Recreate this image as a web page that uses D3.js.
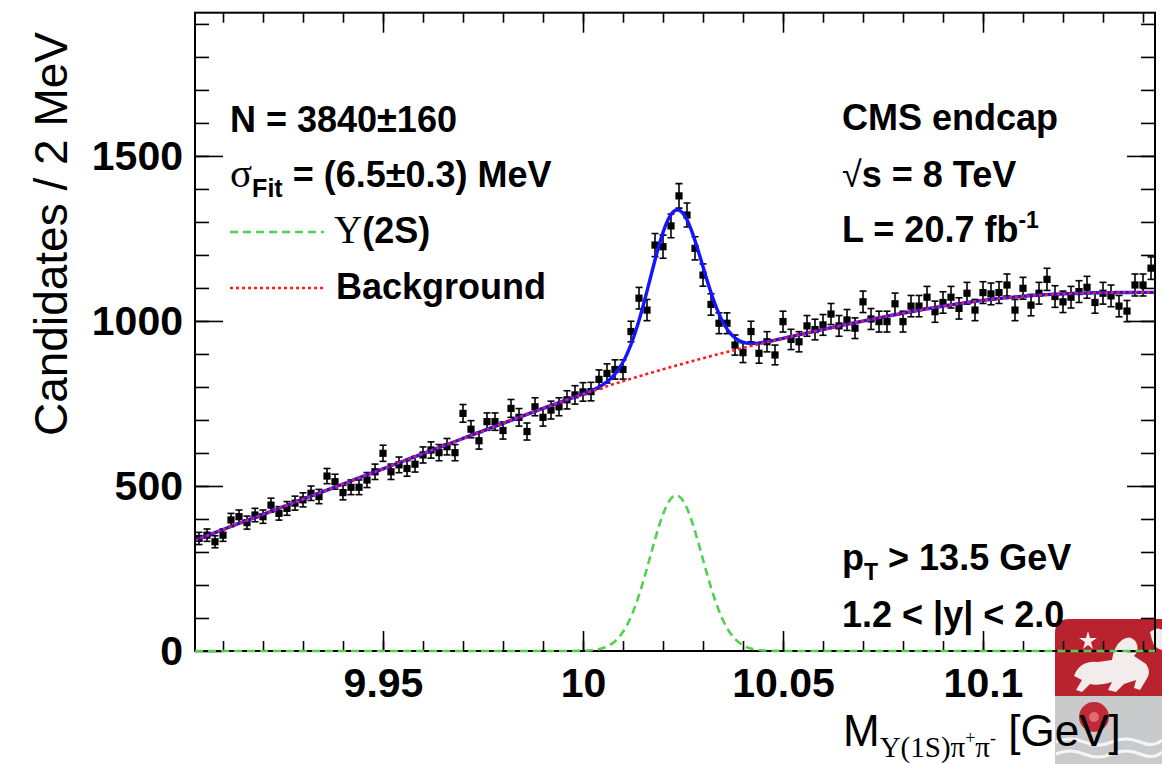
<!DOCTYPE html>
<html>
<head>
<meta charset="utf-8">
<script src="https://cdn.jsdelivr.net/npm/d3@7"></script>
<style>
  html, body { margin: 0; padding: 0; background: #fff; }
  svg { display: block; }
</style>
</head>
<body>
<svg id="chart" width="1162" height="764"></svg>
<script>
// Upsilon(1S) pi+ pi- invariant mass spectrum, 2 MeV bins from 9.903 to 10.143 GeV
const massLow = 9.903;
const massHigh = 10.143;
const binWidth = 0.002;
const binCenters = d3.range(120).map(i => massLow + binWidth * (i + 0.5));

const counts = [
  341, 351, 331, 351, 397, 407, 389, 412, 407, 442,
  417, 432, 448, 458, 478, 468, 530, 513, 480, 496,
  496, 518, 543, 599, 543, 564, 553, 566, 594, 609,
  601, 619, 601, 720, 672, 637, 695, 695, 668, 735,
  708, 665, 740, 708, 730, 740, 761, 776, 785, 786,
  823, 841, 853, 853, 968, 1069, 1033, 1230, 1225, 1288,
  1379, 1321, 1220, 1139, 1050, 993, 993, 927, 904, 968,
  902, 937, 897, 998, 944, 937, 985, 974, 988, 1021,
  985, 1003, 978, 1058, 1006, 998, 998, 1052, 998, 1045,
  1045, 1072, 1028, 1056, 1072, 1038, 1084, 1033, 1086, 1082,
  1086, 1109, 1033, 1099, 1048, 1084, 1126, 1074, 1058, 1072,
  1089, 1102, 1056, 1084, 1076, 1045, 1030, 1109, 1109, 1160
];

// Background fit: control values on a uniform 20 MeV grid starting at 9.90 GeV
const bgGridStart = 9.90;
const bgGridEnd = 10.16;
const bgLevels = [322, 414, 506, 598, 690, 781, 855, 920, 975, 1025, 1066, 1085, 1087, 1086];

// Upsilon(2S) signal: Gaussian yield and width from the fit
const sigYield = 3840;
const sigMean = 10.0233;
const sigWidth = 0.0065;

const xTickLabels = [9.95, 10, 10.05, 10.1];
const yTickLabels = [0, 500, 1000, 1500];

// ---------------------------------------------------------------
const svg = d3.select("#chart");
const plotL = 195, plotR = 1155, plotT = 12.7, plotB = 651;

const x = d3.scaleLinear().domain([massLow, massHigh]).range([plotL, plotR]);
const y = d3.scaleLinear().domain([0, 1934]).range([plotB, plotT]);

const sans = "'Liberation Sans', Arial, Helvetica, sans-serif";
const serif = "'Liberation Serif', 'Times New Roman', serif";

const bgSpline = d3.interpolateBasis(bgLevels);
const background = m => bgSpline((m - bgGridStart) / (bgGridEnd - bgGridStart));
const signal = m => sigYield * binWidth / (sigWidth * Math.sqrt(2 * Math.PI)) *
  Math.exp(-0.5 * Math.pow((m - sigMean) / sigWidth, 2));

const fine = d3.range(massLow, massHigh + 0.00025, 0.0005);

// crest in the lower right corner, underneath the plot
const crest = svg.append("g");
crest.append("path")
  .attr("d", "M1055,633 Q1055,619 1069,619 L1162,619 L1162,696 L1055,696 Z")
  .attr("fill", "#b9232e");
crest.append("rect").attr("x", 1055).attr("y", 696).attr("width", 107).attr("height", 68)
  .attr("fill", "#c8cacc");
// lion passant
crest.append("path")
  .attr("d", "M1074,676 Q1080,660 1098,662 L1112,660 Q1114,646 1122,640 Q1130,634 1136,642 Q1140,650 1134,656 L1146,664 Q1152,672 1146,680 L1140,690 L1134,688 L1136,680 L1124,684 L1116,692 L1108,690 L1112,682 Q1098,686 1090,684 L1082,692 L1076,690 L1082,680 Z")
  .attr("fill", "#f3ecec");
crest.append("path")
  .attr("d", "M1088,631 L1090,638 L1097,638 L1091,642 L1093,649 L1088,645 L1083,649 L1085,642 L1079,638 L1086,638 Z")
  .attr("fill", "#f3ecec");
crest.append("path")
  .attr("d", "M1150,632 Q1158,626 1162,630 L1162,650 Q1154,648 1152,640 Z")
  .attr("fill", "#f3ecec");
// red rose
crest.append("circle").attr("cx", 1094).attr("cy", 717).attr("r", 15).attr("fill", "#c02a36");
crest.append("circle").attr("cx", 1094).attr("cy", 717).attr("r", 5).attr("fill", "#e36a70");
// waves
crest.append("path")
  .attr("d", "M1056,742 Q1070,736 1084,742 T1112,742 T1140,742 T1162,740 M1056,754 Q1070,748 1084,754 T1112,754 T1140,754 T1162,752")
  .attr("fill", "none").attr("stroke", "#f5f5f5").attr("stroke-width", 3);

svg.append("defs").append("clipPath").attr("id", "plotArea")
  .append("rect").attr("x", plotL).attr("y", plotT)
  .attr("width", plotR - plotL).attr("height", plotB - plotT + 2);

// data points with Poisson error bars
const pts = svg.append("g").attr("clip-path", "url(#plotArea)");
const pointGroups = pts.selectAll("g.pt")
  .data(binCenters.map((m, i) => ({ m, n: counts[i] })))
  .join("g").attr("class", "pt");
pointGroups.append("line")
  .attr("x1", d => x(d.m)).attr("x2", d => x(d.m))
  .attr("y1", d => y(d.n + Math.sqrt(d.n))).attr("y2", d => y(d.n - Math.sqrt(d.n)))
  .attr("stroke", "#000").attr("stroke-width", 1.6);
[1, -1].forEach(s => {
  pointGroups.append("line")
    .attr("x1", d => x(d.m) - 3.5).attr("x2", d => x(d.m) + 3.5)
    .attr("y1", d => y(d.n + s * Math.sqrt(d.n))).attr("y2", d => y(d.n + s * Math.sqrt(d.n)))
    .attr("stroke", "#000").attr("stroke-width", 1.6);
});
pointGroups.append("rect")
  .attr("x", d => x(d.m) - 3.6).attr("y", d => y(d.n) - 3.6)
  .attr("width", 7.2).attr("height", 7.2).attr("fill", "#000");

// fit curves
const curves = svg.append("g").attr("clip-path", "url(#plotArea)");
const line = d3.line().x(d => x(d[0])).y(d => y(d[1]));
curves.append("path")
  .attr("d", line(fine.map(m => [m, background(m) + signal(m)])))
  .attr("fill", "none").attr("stroke", "#1414ff").attr("stroke-width", 3.4);
curves.append("path")
  .attr("d", line(fine.map(m => [m, background(m)])))
  .attr("fill", "none").attr("stroke", "#ff1a1a").attr("stroke-width", 2.6)
  .attr("stroke-dasharray", "3,3");

// frame
svg.append("rect").attr("x", plotL).attr("y", plotT)
  .attr("width", plotR - plotL).attr("height", plotB - plotT)
  .attr("fill", "none").attr("stroke", "#000").attr("stroke-width", 2);

// axes: major and minor ticks on all four sides, pointing inward
const minorX = d3.range(9.91, 10.1401, 0.01).map(v => +v.toFixed(3));
const majorX = xTickLabels;
const minorY = d3.range(100, 1901, 100);

function noDomain(g) {
  g.select(".domain").remove();
  g.selectAll(".tick line").attr("stroke", "#000").attr("stroke-width", 1.6);
}

svg.append("g").attr("transform", `translate(0,${plotB})`)
  .call(d3.axisBottom(x).tickValues(minorX).tickSize(-10).tickFormat(""))
  .call(noDomain);
svg.append("g").attr("transform", `translate(0,${plotB})`)
  .call(d3.axisBottom(x).tickValues(majorX).tickSize(-20).tickPadding(17)
    .tickFormat(d => d3.format("")(d)))
  .call(noDomain)
  .call(g => g.selectAll("text").attr("font-family", sans).attr("font-weight", "bold")
    .attr("font-size", 41).attr("fill", "#000"));
svg.append("g").attr("transform", `translate(0,${plotT})`)
  .call(d3.axisTop(x).tickValues(minorX).tickSize(-10).tickFormat(""))
  .call(noDomain);
svg.append("g").attr("transform", `translate(0,${plotT})`)
  .call(d3.axisTop(x).tickValues(majorX).tickSize(-20).tickFormat(""))
  .call(noDomain);

svg.append("g").attr("transform", `translate(${plotL},0)`)
  .call(d3.axisLeft(y).tickValues(minorY).tickSize(-14).tickFormat(""))
  .call(noDomain);
svg.append("g").attr("transform", `translate(${plotL},0)`)
  .call(d3.axisLeft(y).tickValues(yTickLabels).tickSize(-28).tickPadding(12).tickFormat(d3.format("")))
  .call(noDomain)
  .call(g => g.selectAll("text").attr("font-family", sans).attr("font-weight", "bold")
    .attr("font-size", 41).attr("fill", "#000"));
svg.append("g").attr("transform", `translate(${plotR},0)`)
  .call(d3.axisRight(y).tickValues(minorY).tickSize(-14).tickFormat(""))
  .call(noDomain);
svg.append("g").attr("transform", `translate(${plotR},0)`)
  .call(d3.axisRight(y).tickValues(yTickLabels).tickSize(-28).tickFormat(""))
  .call(noDomain);

// signal component, drawn over the lower axis
svg.append("path")
  .attr("d", line(fine.map(m => [m, signal(m)])))
  .attr("fill", "none").attr("stroke", "#4fd24f").attr("stroke-width", 2.6)
  .attr("stroke-dasharray", "8,5");

// axis titles
svg.append("text")
  .attr("transform", "translate(67,32) rotate(-90)")
  .attr("text-anchor", "end")
  .attr("font-family", sans).attr("font-size", 46).attr("fill", "#000")
  .text("Candidates / 2 MeV");

const xt = svg.append("text").attr("x", 843).attr("y", 746)
  .attr("font-family", sans).attr("font-size", 44).attr("fill", "#000");
xt.append("tspan").text("M");
xt.append("tspan").attr("font-family", serif).attr("font-size", 29).attr("dy", 11).text("Υ(1S)π");
xt.append("tspan").attr("font-family", serif).attr("font-size", 18).attr("dy", -13).text("+");
xt.append("tspan").attr("font-family", serif).attr("font-size", 29).attr("dy", 13).text("π");
xt.append("tspan").attr("font-family", serif).attr("font-size", 18).attr("dy", -13).text("-");
xt.append("tspan").attr("dy", 2).text(" [GeV]");

// fit results and legend
const ann = svg.append("g").attr("font-family", sans).attr("font-weight", "bold")
  .attr("font-size", 36).attr("fill", "#000");
ann.append("text").attr("x", 230).attr("y", 132).text("N = 3840±160");
const sg = ann.append("text").attr("x", 230).attr("y", 187);
sg.append("tspan").attr("font-family", serif).attr("font-weight", "normal").attr("font-size", 41).text("σ");
sg.append("tspan").attr("font-size", 25).attr("dy", 10).text("Fit");
sg.append("tspan").attr("dy", -10).text(" = (6.5±0.3) MeV");

ann.append("line").attr("x1", 230).attr("x2", 324).attr("y1", 232).attr("y2", 232)
  .attr("stroke", "#4fd24f").attr("stroke-width", 2.6).attr("stroke-dasharray", "8,5");
const ups = ann.append("text").attr("x", 334).attr("y", 243);
ups.append("tspan").attr("font-family", serif).attr("font-weight", "normal").attr("font-size", 39).text("Υ");
ups.append("tspan").text("(2S)");

ann.append("line").attr("x1", 230).attr("x2", 324).attr("y1", 288).attr("y2", 288)
  .attr("stroke", "#ff1a1a").attr("stroke-width", 2.6).attr("stroke-dasharray", "3,3");
ann.append("text").attr("x", 336).attr("y", 299).text("Background");

// run conditions and selection
ann.append("text").attr("x", 842).attr("y", 130).text("CMS endcap");
const rs = ann.append("text").attr("x", 842).attr("y", 187);
rs.append("tspan").attr("font-weight", "normal").text("√");
rs.append("tspan").text("s = 8 TeV");
const lum = ann.append("text").attr("x", 842).attr("y", 242);
lum.append("tspan").text("L = 20.7 fb");
lum.append("tspan").attr("font-size", 23).attr("dy", -14).text("-1");
const ptText = ann.append("text").attr("x", 842).attr("y", 570);
ptText.append("tspan").text("p");
ptText.append("tspan").attr("font-size", 23).attr("dy", 10).text("T");
ptText.append("tspan").attr("dy", -10).text(" > 13.5 GeV");
ann.append("text").attr("x", 842).attr("y", 627).text("1.2 < |y| < 2.0");
</script>
</body>
</html>
